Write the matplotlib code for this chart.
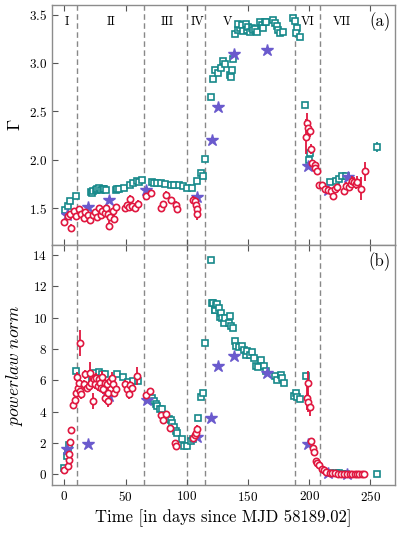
import matplotlib
matplotlib.use("Agg")
import matplotlib.pyplot as plt
import numpy as np

plt.rcParams.update({
    "font.family": "serif",
    "font.serif": ["cmr10", "DejaVu Serif"],
    "mathtext.fontset": "cm",
    "axes.formatter.use_mathtext": True,
    "axes.unicode_minus": False,
})

# ---------------- data ----------------
# vertical state boundaries (days)
boundaries = [10.2, 65.5, 100.2, 115.2, 188.3, 208.4]
region_labels = ["I", "II", "III", "IV", "V", "VI", "VII"]
region_label_x = [2, 38.5, 84, 108.6, 133, 198.6, 227]

# teal squares, panel (a)
sq_top_t = [0.8, 2.7, 4.9, 9.5, 21.6, 22.6, 23.5, 25.7, 27, 28.4, 29.8, 31.5, 32.4, 34,
            42, 43.4, 44.7, 48.8, 53.4, 56.1, 59.7, 61, 63.2,
            71.4, 73.3, 76, 78.7, 82.2, 86.9, 89.6, 93.6, 97.2, 100.5, 104.6,
            108.6, 111.3, 113.2, 114.9,
            119.5, 121.4, 123, 125.4, 127.7, 129.5, 131.2, 135.2, 135.8, 136.6, 137.7,
            139.4, 141.5, 143.5, 142.1, 145.4, 146.2, 148.1, 148.9, 150.3, 151.6, 153,
            154.3, 155.7, 157.1, 159.8, 161.2, 162.5, 163.9, 165, 170.7, 172.1, 173.4,
            174.7, 176.1, 178.8, 187, 188.4, 189.8, 189, 192.1,
            196.4, 200.1, 200.9,
            216.6, 221.5, 224.2, 227, 229.6, 255]
sq_top_g = [1.48, 1.52, 1.57, 1.63, 1.67, 1.655, 1.68, 1.69, 1.70, 1.71, 1.69, 1.70, 1.70, 1.69,
            1.69, 1.70, 1.70, 1.71, 1.74, 1.76, 1.78, 1.77, 1.79,
            1.775, 1.765, 1.76, 1.76, 1.75, 1.74, 1.74, 1.74, 1.73, 1.71, 1.71,
            1.78, 1.86, 1.83, 2.01,
            2.65, 2.84, 2.93, 2.90, 2.95, 3.02, 2.99, 2.88, 2.86, 2.93, 3.04,
            3.30, 3.34, 3.36, 3.40, 3.39, 3.33, 3.40, 3.34, 3.37, 3.32, 3.36,
            3.34, 3.35, 3.32, 3.42, 3.39, 3.36, 3.42, 3.42, 3.45, 3.41, 3.38,
            3.34, 3.31, 3.32, 3.47, 3.43, 3.36, 3.31, 3.27,
            2.57, 2.00, 2.07,
            1.77, 1.78, 1.80, 1.83, 1.83, 2.13]
# only the last square (day 255) shows a visible error bar
sq_top_err = [0] * (len(sq_top_t) - 1) + [0.05]

# teal squares, panel (b)
sq_bot_t = [0.2, 2, 3, 3.5, 9.4, 22.6, 25.3, 28, 30.7, 33.4, 43, 48.3, 52.4, 56.5, 60.6,
            71.4, 73.3, 74.6, 76, 78.1, 80.1, 85.5, 86.9, 88.3, 89.6, 90.9, 92.3, 96.4,
            97.7, 100.5, 103.2, 105.4, 109.1, 111.3, 113.2, 114.8,
            119.5, 120.9, 121.4, 122.8, 123, 123.6, 125, 126.3, 127.1, 127.7, 129, 130.3,
            130.9, 134.4, 135.2, 136.4, 137.7,
            139.3, 140.4, 142.6, 145.4, 146.7, 148, 149.4, 151.5, 153.5, 154.8, 156.2,
            158.1, 160.8, 163, 164.4, 171.7, 173.3, 176.6, 178, 179.3,
            187.4, 189.4, 190.2, 192.1, 197,
            216.6, 221.5, 224.2, 227, 229.6, 255]
sq_bot_n = [0.43, 1.16, 1.48, 1.89, 6.58, 6.18, 6.45, 6.54, 6.39, 6.39, 6.39, 6.24, 5.9, 5.97, 5.97,
            4.88, 4.67, 4.52, 4.35, 4.18, 4.18, 3.55, 3.5, 3.29, 3.01, 2.76, 2.65, 2.23,
            1.8, 1.8, 2.12, 2.23, 3.6, 4.95, 5.2, 8.38,
            13.7, 10.93, 10.93, 10.46, 10.46, 10.82, 10.87, 10.61, 10.04, 10.33, 10.01, 9.65,
            9.97, 9.69, 10.08, 9.48, 9.34,
            8.49, 8.21, 8.16, 8.21, 7.96, 7.64, 7.85, 7.64, 7.81, 7.43, 6.94,
            6.86, 7.28, 6.9, 6.58, 6.26, 6.05, 6.37, 6.16, 5.84,
            5.03, 5.2, 4.95, 4.82, 6.26,
            0.10, 0.07, 0.06, 0.05, 0.05, 0.02]

# red circles, panel (a)
ci_top_t = [0, 3, 4.9, 5.7, 7.6, 9.5, 11.7, 14, 15.9, 17.3, 19.5, 21.2, 23.1, 24.7, 26.6,
            28, 30.2, 31.2, 32.9, 34, 35.6, 36.7, 37.5, 39.4, 41, 42.1, 49.2, 51.1, 53,
            53.8, 55.7, 57.9, 60.1, 66.6, 70.5, 78.7, 80.9, 83.4, 87.4, 90.9, 92.3,
            105.4, 106.5, 107.8, 108.6, 108.2,
            197.2, 198.3, 199.1, 200.4, 201.8, 202.4, 204.3, 205, 206.4,
            207.8, 210.6, 212.7, 215.2, 217.4, 219.3, 221, 222.9, 228.3, 230.3, 232.4,
            233.8, 235.2, 236.5, 237.9, 239.3, 242, 245.3]
ci_top_g = [1.36, 1.42, 1.44, 1.30, 1.47, 1.415, 1.49, 1.44, 1.40, 1.46, 1.425, 1.38, 1.43, 1.465, 1.41,
            1.50, 1.43, 1.47, 1.45, 1.50, 1.44, 1.32, 1.41, 1.47, 1.39, 1.51, 1.50, 1.53, 1.51,
            1.60, 1.52, 1.50, 1.54, 1.63, 1.66, 1.50, 1.54, 1.64, 1.58, 1.53, 1.49,
            1.59, 1.57, 1.53, 1.49, 1.44,
            2.24, 2.38, 2.33, 2.30, 2.11, 1.97, 1.95, 1.92, 1.88,
            1.74, 1.74, 1.70, 1.69, 1.68, 1.63, 1.70, 1.72, 1.68, 1.73, 1.72,
            1.75, 1.78, 1.77, 1.75, 1.77, 1.70, 1.88]
ci_top_err = [0.03, 0.04, 0.03, 0.04, 0.03, 0.03, 0.03, 0.03, 0.04, 0.03, 0.03, 0.04, 0.03, 0.03, 0.04,
              0.03, 0.04, 0.03, 0.04, 0.03, 0.04, 0.05, 0.03, 0.03, 0.04, 0.03, 0.04, 0.03, 0.03,
              0.04, 0.03, 0.04, 0.04, 0.03, 0.03, 0.04, 0.03, 0.04, 0.04, 0.04, 0.04,
              0.04, 0.04, 0.05, 0.05, 0.06,
              0.18, 0.10, 0.08, 0.06, 0.05, 0.03, 0.03, 0.03, 0.03,
              0.03, 0.03, 0.03, 0.04, 0.03, 0.04, 0.03, 0.03, 0.04, 0.04, 0.04,
              0.04, 0.05, 0.05, 0.05, 0.06, 0.12, 0.10]

# red circles, panel (b)
ci_bot_t = [0.2, 3, 3.5, 4.1, 4.9, 5.7, 6.8, 8.4, 9.5, 10.3, 11.1, 12.2, 12.6, 13, 13.9,
            15.8, 16.6, 18.5, 19.8, 21.2, 22, 23.1, 23.9, 25.3, 25.8, 27.5, 28, 29.3, 30.2,
            31.2, 32, 32.9, 33.4, 34.8, 35.6, 36.1, 37.5, 38.9, 40.2, 41, 42.4, 49.7, 51.1,
            53, 53.8, 55.2, 59.3,
            66.6, 70.1, 78.8, 80.5, 82.9, 86.4, 90.5, 91.3,
            105.4, 106.5, 107.3, 108.2,
            197.8, 198.9, 199.1, 200.3, 201.5, 202.8, 204.2, 205.6, 206.4, 207.7, 210.5,
            212.3, 214, 216.7, 218.6, 221.3, 223.2, 226, 228.5, 231, 233, 235, 237, 239,
            241, 243, 245]
ci_bot_n = [0.26, 0.53, 0.91, 1.32, 2.06, 2.83, 4.41, 4.73, 5.18, 6.24, 5.54, 5.81, 8.38, 5.32, 5.11,
            5.75, 6.39, 5.54, 5.64, 6.49, 5.85, 4.68, 6.07, 5.75, 6.18, 5.64, 6.07, 5.86, 5.54,
            6.24, 5.43, 4.9, 5.86, 5.75, 4.68, 5.22, 5.96, 6.18, 5.75, 5.22, 5.47, 5.75, 5.43,
            5.11, 5.69, 5.54, 6.28,
            5.05, 5.32, 3.8, 3.5, 3.86, 2.97, 2.02, 1.8,
            2.34, 2.5, 2.66, 2.92,
            4.88, 5.84, 4.6, 4.31, 2.12, 1.70, 1.42, 0.85, 0.74, 0.57, 0.36,
            0.25, 0.17, 0.11, 0.08, 0.06, 0.05, 0.04, 0.04, 0.03, 0.03, 0.03, 0.03, 0.02,
            0.02, 0.02, 0.02]
ci_bot_err = [0.05, 0.08, 0.1, 0.1, 0.12, 0.12, 0.2, 0.2, 0.25, 0.3, 0.3, 0.3, 0.85, 0.3, 0.3,
              0.3, 0.3, 0.3, 0.3, 0.65, 0.3, 0.5, 0.35, 0.3, 0.3, 0.3, 0.3, 0.3, 0.3,
              0.35, 0.3, 0.35, 0.3, 0.3, 0.4, 0.3, 0.3, 0.35, 0.3, 0.3, 0.3, 0.3, 0.3,
              0.3, 0.3, 0.3, 0.6,
              0.2, 0.2, 0.2, 0.2, 0.2, 0.2, 0.15, 0.15,
              0.15, 0.15, 0.2, 0.2,
              0.8, 0.75, 0.6, 0.6, 0.1, 0.1, 0.08, 0.06, 0.05, 0.04, 0.03,
              0.02, 0.02, 0.01, 0.01, 0.01, 0.01, 0.01, 0.01, 0.01, 0.01, 0.01, 0.01, 0.01,
              0.01, 0.01, 0.01]

# purple stars
star_t = [2, 19, 36.3, 66.8, 108.6, 120.3, 125.5, 138.5, 165.7, 198.9, 215.5, 231.5]
star_g = [1.43, 1.51, 1.58, 1.69, 1.62, 2.20, 2.55, 3.09, 3.14, 1.94, 1.69, 1.82]
star_bot_t = [2.5, 19.7, 36.5, 67.3, 108.6, 120, 125.5, 138.5, 165.7, 198.9, 215.5, 231]
star_n = [1.63, 1.91, 4.98, 4.77, 2.38, 3.6, 6.94, 7.53, 6.47, 1.91, 0.10, 0.04]

# ---------------- style ----------------
TEAL = "#16898a"
RED = "#e0173f"
PURPLE = "#6a5acd"
SPINE = "#8c8c8c"

fig = plt.figure(figsize=(3.99, 5.34), dpi=100)
ax1 = fig.add_axes([52 / 399, 1 - 245 / 534, (395 - 52) / 399, 240 / 534])
ax2 = fig.add_axes([52 / 399, 1 - 485 / 534, (395 - 52) / 399, 240 / 534], sharex=ax1)


def style(ax):
    for s in ax.spines.values():
        s.set_color(SPINE)
        s.set_linewidth(1.0)
    ax.tick_params(direction="in", top=True, right=False, length=4, width=0.8,
                   color="#555555", labelsize=9.5)
    for b in boundaries:
        ax.axvline(b, color="#888888", ls=(0, (4, 2.5)), lw=1.0, zorder=1)


def draw(ax, st, sy, se, ct, cy, ce, xt, xy):
    ax.errorbar(st, sy, yerr=se, fmt="s", ms=4.4, mfc="white", mec=TEAL, mew=1.2,
                ecolor=TEAL, elinewidth=1.2, capsize=0, zorder=2)
    ax.plot(xt, xy, "*", ms=9, color=PURPLE, mec=PURPLE, zorder=3, ls="none")
    ax.errorbar(ct, cy, yerr=ce, fmt="o", ms=4.5, mfc="white", mec=RED, mew=1.2,
                ecolor=RED, elinewidth=1.3, capsize=0, zorder=4)


style(ax1)
style(ax2)
draw(ax1, sq_top_t, sq_top_g, sq_top_err, ci_top_t, ci_top_g, ci_top_err, star_t, star_g)
draw(ax2, sq_bot_t, sq_bot_n, [0] * len(sq_bot_t), ci_bot_t, ci_bot_n, ci_bot_err,
     star_bot_t, star_n)

ax1.set_xlim(-10, 270)
ax1.set_ylim(1.12, 3.6)
ax2.set_ylim(-0.68, 14.64)
ax1.set_yticks([1.5, 2.0, 2.5, 3.0, 3.5])
ax2.set_yticks([0, 2, 4, 6, 8, 10, 12, 14])
ax2.set_xticks([0, 50, 100, 150, 200, 250])
plt.setp(ax1.get_xticklabels(), visible=False)

for lab, xl in zip(region_labels, region_label_x):
    ax1.text(xl, 3.43, lab, ha="center", va="center", fontsize=9)
ax1.text(0.955, 0.93, "(a)", transform=ax1.transAxes, ha="center", va="center", fontsize=12)
ax2.text(0.955, 0.93, "(b)", transform=ax2.transAxes, ha="center", va="center", fontsize=12)

ax1.set_ylabel(r"$\Gamma$", fontsize=13)
ax2.set_ylabel(r"$\mathit{powerlaw\ norm}$", fontsize=12.5)
ax1.yaxis.set_label_coords(-0.085, 0.5)
ax2.yaxis.set_label_coords(-0.08, 0.5)
ax2.set_xlabel("Time [in days since MJD 58189.02]", fontsize=12)

fig.savefig("out.png", dpi=100)
